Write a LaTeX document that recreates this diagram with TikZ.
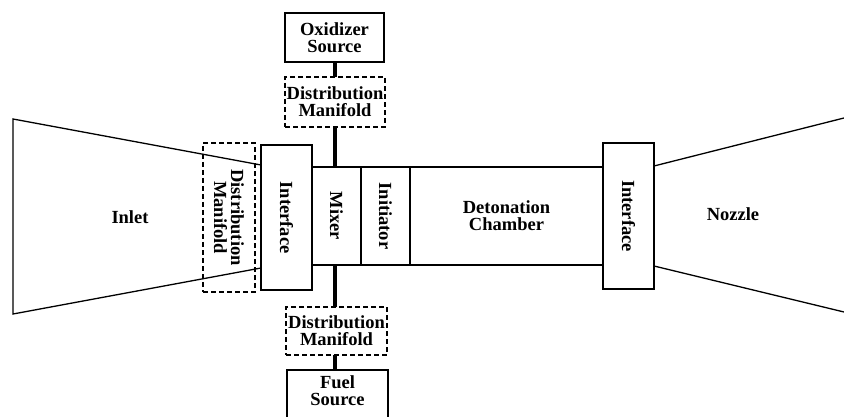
\documentclass[tikz,border=0pt]{standalone}
\usepackage{fontspec}
\setmainfont{Liberation Serif}
\begin{document}
\begin{tikzpicture}[x=1pt,y=-1pt,
  font=\fontsize{18.5}{17}\selectfont\bfseries,
  part/.style={draw, line width=1.3pt, inner sep=0pt, outer sep=0pt, align=center},
  manifold/.style={part, dashed, dash pattern=on 5pt off 3pt},
  label/.style={align=center, inner sep=0pt},
  feed/.style={line width=4pt}]
  \useasboundingbox (0,0) rectangle (844,417);
  \clip (0,0) rectangle (844,417);
  \node[part, minimum width=99pt, minimum height=49pt] (oxsrc) at (334.5,37.5) {Oxidizer\\Source};
  \node[manifold, minimum width=100pt, minimum height=50pt] (oxman) at (335,102) {Distribution\\Manifold};
  \node[part, minimum width=51pt, minimum height=145pt] (intL) at (286.5,217.5) {};
  \node[label, rotate=-90] at (intL) {Interface};
  \node[part, minimum width=49pt, minimum height=98pt] (mixer) at (336.5,216) {};
  \node[label, rotate=-90] at (mixer) {Mixer};
  \node[part, minimum width=49pt, minimum height=98pt, anchor=west] (init) at (mixer.east) {};
  \node[label, rotate=-90] at (init) {Initiator};
  \node[part, minimum width=193pt, minimum height=98pt, anchor=west] (det) at (init.east) {Detonation\\Chamber};
  \node[part, minimum width=51pt, minimum height=146pt] (intR) at (628.5,216) {};
  \node[label, rotate=-90] at (intR) {Interface};
  \node[manifold, minimum width=101pt, minimum height=48pt] (fuman) at (336.5,331) {Distribution\\Manifold};
  \node[part, minimum width=101pt, minimum height=55pt] (fusrc) at (337.5,397.5) {};
  \node[label] at (337.5,391) {Fuel\\Source};
  \draw[line width=1.3pt] (intL.west |- 0,165) -- (13,119) -- (13,314) -- (intL.west |- 0,268);
  \draw[line width=1.3pt] (intR.east |- 0,166) -- (844,118);
  \draw[line width=1.3pt] (intR.east |- 0,266) -- (844,312);
  \node (inlet) at (130,217) {Inlet};
  \node (nozzle) at (733,214) {Nozzle};
  \node[manifold, minimum width=52pt, minimum height=149pt] (manL) at (229,217.5) {};
  \node[label, rotate=-90] at (manL) {Distribution\\Manifold};
  \draw[feed] (oxsrc.south) -- (oxsrc.south |- oxman.north);
  \draw[feed] (oxsrc.south |- oxman.south) -- (oxsrc.south |- mixer.north);
  \draw[feed] (oxsrc.south |- mixer.south) -- (oxsrc.south |- fuman.north);
  \draw[feed] (oxsrc.south |- fuman.south) -- (oxsrc.south |- fusrc.north);
\end{tikzpicture}
\end{document}
